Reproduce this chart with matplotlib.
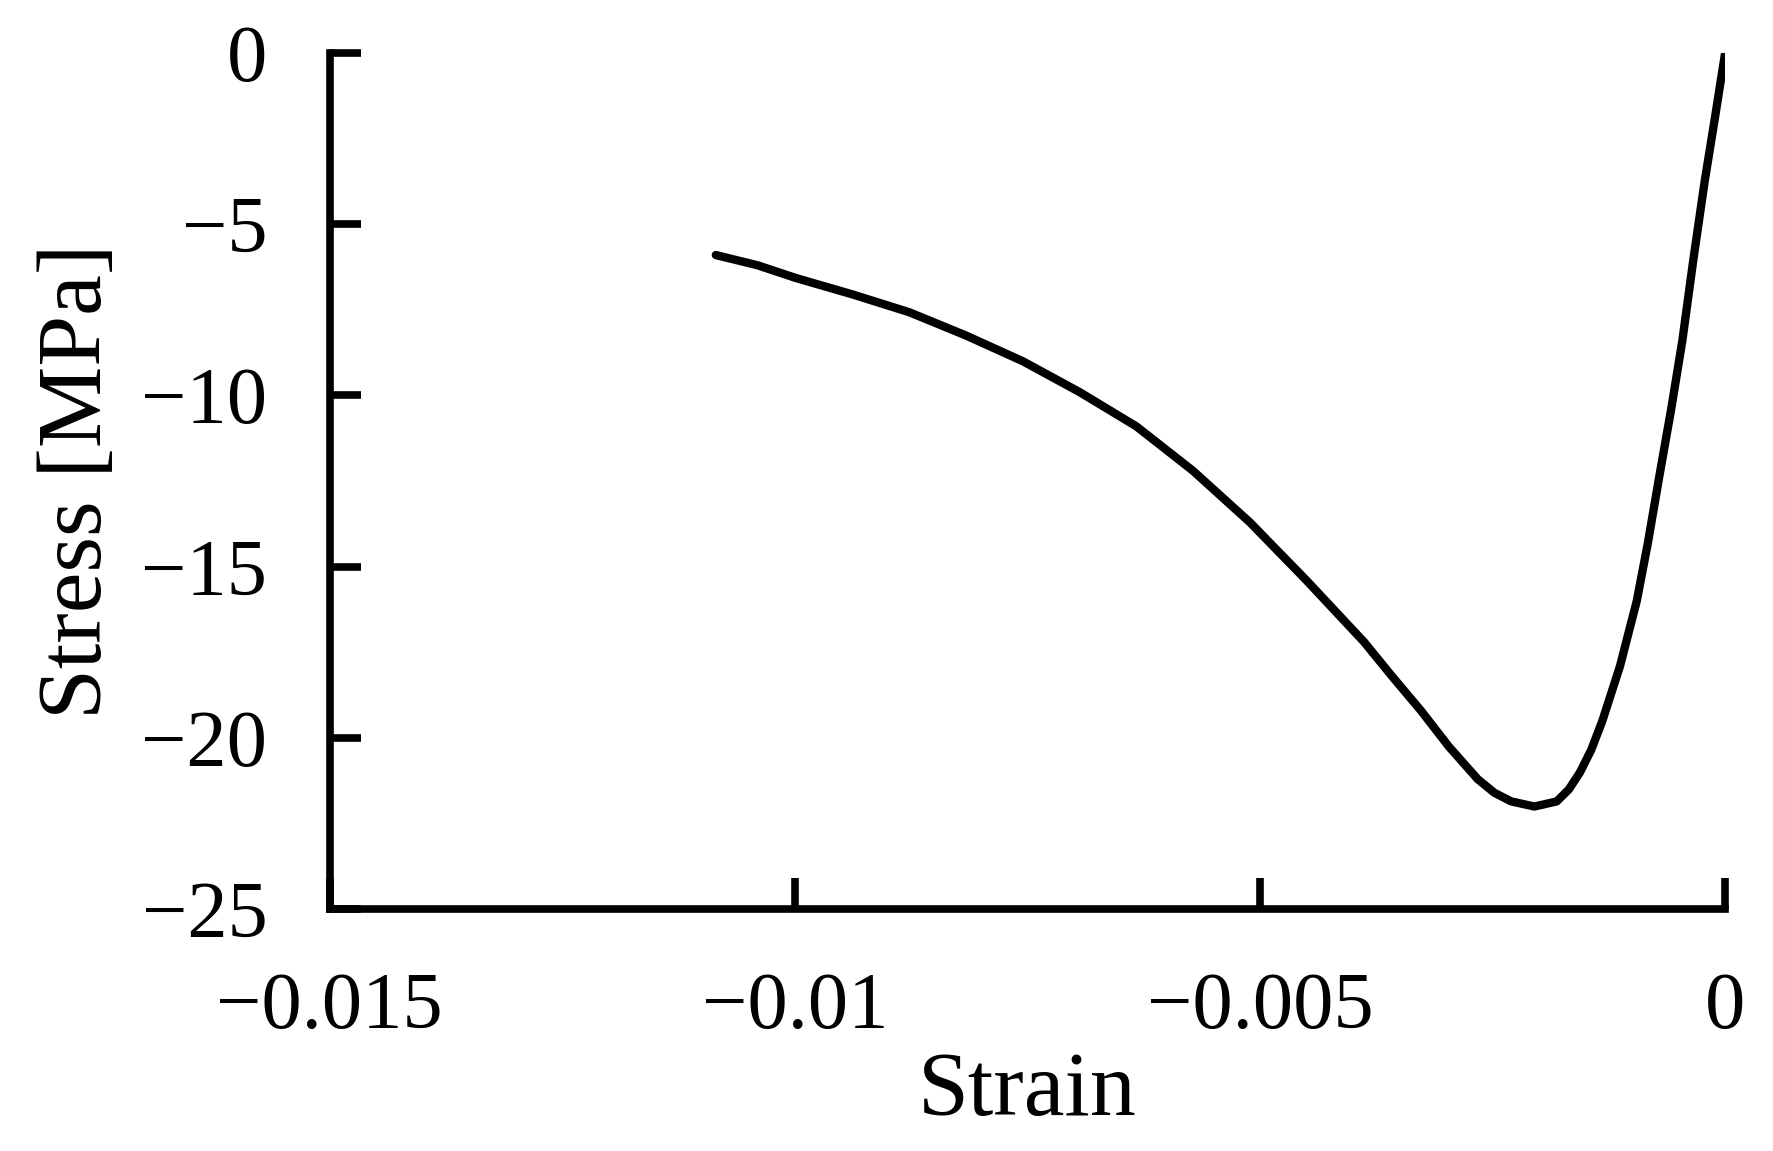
import matplotlib
matplotlib.use("Agg")
import matplotlib.pyplot as plt

strain = [-0.01085, -0.01040, -0.00999, -0.00938, -0.00877, -0.00816, -0.00755, -0.00694,
          -0.00633, -0.00572, -0.00511, -0.0045, -0.00419, -0.00388, -0.00358, -0.00327,
          -0.00297, -0.00266, -0.00248, -0.0023, -0.00205, -0.00181, -0.00168, -0.00156,
          -0.00144, -0.00132, -0.00113, -0.00095, -0.00083, -0.00071, -0.00058, -0.00046,
          -0.00034, -0.00022, -0.00011, 0.0]
stress = [-5.9, -6.2, -6.57, -7.05, -7.57, -8.25, -9.0, -9.9,
          -10.9, -12.2, -13.7, -15.4, -16.3, -17.2, -18.2, -19.2,
          -20.25, -21.2, -21.6, -21.85, -22.0, -21.85, -21.5, -21.0,
          -20.35, -19.5, -17.9, -16.0, -14.3, -12.4, -10.4, -8.4,
          -6.0, -3.75, -1.9, 0.0]
xticks = [-0.015, -0.01, -0.005, 0]
xticklabels = ["\u22120.015", "\u22120.01", "\u22120.005", "0"]
yticks = [0, -5, -10, -15, -20, -25]
yticklabels = ["0", "\u22125", "\u221210", "\u221215", "\u221220", "\u221225"]

plt.rcParams['font.family'] = ['Liberation Serif', 'DejaVu Serif']
fig = plt.figure(figsize=(17.73, 11.51), dpi=100)
ax = fig.add_axes([0.186, 0.21, 0.787, 0.744])
ax.plot(strain, stress, color='black', lw=6, solid_capstyle='round')
ax.set_xlim(-0.015, 0)
ax.set_ylim(-25, 0)
ax.set_xticks(xticks)
ax.set_xticklabels(xticklabels)
ax.set_yticks(yticks)
ax.set_yticklabels(yticklabels)
for s in ['top', 'right']:
    ax.spines[s].set_visible(False)
for s in ['left', 'bottom']:
    ax.spines[s].set_linewidth(5.5)
ax.tick_params(direction='in', length=22, width=5.5, labelsize=58)
ax.tick_params(axis='x', pad=45)
ax.tick_params(axis='y', pad=45)
ax.set_xlabel('Strain', fontsize=66, labelpad=5)
ax.set_ylabel('Stress [MPa]', fontsize=66, labelpad=15)
fig.savefig('out.png', dpi=100)
